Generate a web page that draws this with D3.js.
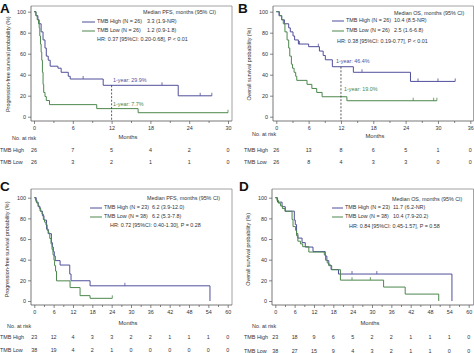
<!DOCTYPE html>
<html><head><meta charset="utf-8">
<script src="https://cdn.jsdelivr.net/npm/d3@7"></script>
<style>html,body{margin:0;padding:0;background:#fff;}svg{display:block;font-family:"Liberation Sans",Arial,sans-serif;}</style>
</head><body>
<script>
// ---------------- DATA ----------------
const yTicks = [0, 20, 40, 60, 80, 100];
const aXTicks = [0, 6, 12, 18, 24, 30];
const bXTicks = [0, 6, 12, 18, 24, 30, 36];
const cdXTicks = [0, 6, 12, 18, 24, 30, 36, 42, 48, 54, 60];

// Panel A (PFS)
const aHighTime = [0, 0.3, 0.6, 0.8, 1.1, 1.4, 1.7, 1.9, 2.2, 2.5, 3.7, 4.2, 5.3, 5.6, 10.7, 22.3];
const aHighSurv = [100, 96.2, 92.3, 88.5, 80.8, 73.1, 65.4, 57.7, 53.8, 48.1, 46.2, 42.3, 38.5, 35.9, 29.9, 19.9];
const aHighEnd = 27.5;
const aHighCensor = [7.6, 19.8, 25.7, 27.5];
const aLowTime = [0, 0.3, 0.5, 0.7, 0.8, 0.9, 1.0, 1.1, 1.2, 1.3, 1.4, 1.5, 1.7, 1.9, 2.4, 9.7, 16.1];
const aLowSurv = [100, 96.2, 92.3, 88.5, 84.6, 76.9, 69.2, 61.5, 53.8, 42.3, 30.8, 23.1, 19.2, 15.4, 11.5, 7.7, 3.8];
const aLowEnd = 30;
const aLowCensor = [30];
const aRiskHigh = [26, 7, 5, 4, 2, 0];
const aRiskLow = [26, 3, 2, 1, 1, 0];

// Panel B (OS)
const bHighTime = [0, 0.5, 1.0, 1.5, 2.3, 2.6, 3.1, 3.4, 4.1, 6.0, 8.0, 8.7, 9.1, 10.4, 14.3, 24.9];
const bHighSurv = [100, 96.2, 92.3, 88.5, 84.6, 80.8, 76.9, 73.1, 69.2, 66.7, 62.5, 58.3, 54.2, 47.6, 42.3, 33.6];
const bHighEnd = 33.2;
const bHighCensor = [4.3, 7.8, 15.9, 26.3, 30.0, 33.2];
const bLowTime = [0, 0.6, 1.0, 1.3, 1.6, 2.0, 2.3, 2.5, 2.8, 3.0, 3.3, 3.6, 3.8, 5.7, 6.6, 7.5, 8.5, 13.1];
const bLowSurv = [100, 96.2, 92.3, 88.5, 80.8, 73.1, 65.4, 57.7, 50.0, 46.2, 42.3, 38.5, 34.6, 30.8, 26.9, 23.1, 19.0, 15.2];
const bLowEnd = 29.8;
const bLowCensor = [25.4, 29.2, 29.8];
const bRiskHigh = [26, 13, 8, 6, 5, 1, 0];
const bRiskLow = [26, 8, 4, 3, 3, 0, 0];

// Panel C (PFS)
const cHighTime = [0, 0.6, 1.2, 1.8, 2.5, 3.0, 3.8, 4.3, 5.3, 5.6, 5.9, 6.2, 6.5, 8.0, 11.0, 11.4, 17.3, 54.5];
const cHighSurv = [100, 95.7, 91.3, 87.0, 82.6, 78.3, 69.6, 65.2, 56.5, 52.2, 47.8, 43.5, 39.1, 34.8, 26.1, 19.6, 14.7, 0];
const cHighEnd = 54.5;
const cHighCensor = [28.1];
const cLowTime = [0, 0.4, 0.8, 1.2, 1.6, 2.0, 2.4, 2.8, 3.2, 3.6, 4.0, 4.4, 4.8, 5.2, 5.5, 5.8, 6.1, 6.3, 6.6, 6.9, 11.1, 14.2, 17.3];
const cLowSurv = [100, 97.4, 94.7, 92.1, 89.5, 86.8, 84.2, 78.9, 76.3, 73.7, 68.4, 65.8, 60.5, 55.3, 50.0, 44.7, 39.5, 34.2, 28.9, 19.5, 13.0, 5.2, 2.6];
const cLowEnd = 24.2;
const cLowCensor = [24.2];
const cRiskHigh = [23, 12, 4, 3, 3, 2, 2, 1, 1, 1, 0];
const cRiskLow = [38, 19, 4, 2, 1, 0, 0, 0, 0, 0, 0];

// Panel D (OS)
const dHighTime = [0, 0.7, 2.1, 3.1, 5.9, 6.2, 6.6, 7.0, 8.3, 9.3, 11.7, 15.5, 16.0, 16.6, 17.3, 19.6, 54.8];
const dHighSurv = [100, 95.7, 91.3, 87.0, 78.3, 73.9, 65.2, 60.9, 56.5, 52.2, 47.8, 43.5, 39.1, 34.8, 30.4, 26.1, 0];
const dHighEnd = 54.8;
const dHighCensor = [23.8, 31.5];
const dLowTime = [0, 0.5, 1.0, 1.6, 2.2, 3.0, 5.2, 5.5, 6.3, 6.6, 7.0, 7.8, 8.5, 10.4, 15.2, 15.6, 16.1, 16.6, 17.5, 20.2, 33.6, 40.3, 50.7];
const dLowSurv = [100, 97.4, 94.7, 92.1, 89.5, 86.8, 78.9, 72.0, 68.4, 63.2, 57.9, 55.3, 52.6, 47.4, 44.7, 39.5, 36.8, 34.2, 30.3, 20.2, 13.5, 6.7, 0];
const dLowEnd = 50.7;
const dLowCensor = [23.8, 29.5];
const dRiskHigh = [23, 18, 9, 6, 5, 2, 2, 1, 1, 1, 0];
const dRiskLow = [38, 27, 15, 9, 4, 3, 2, 1, 1, 0, 0];

// ---------------- DRAW ----------------
const HIGH = "#4f4f9c", LOW = "#4c874c", TXT = "#333";
const FS = 5.4;
const svg = d3.select("body").append("svg").attr("width", 474).attr("height", 353);

function stepPoints(times, surv, end) {
  const pts = [[times[0], surv[0]]];
  for (let i = 1; i < times.length; i++) {
    pts.push([times[i], surv[i - 1]]);
    pts.push([times[i], surv[i]]);
  }
  pts.push([end, surv[surv.length - 1]]);
  return pts;
}
function survAt(times, surv, t) {
  let s = surv[0];
  for (let i = 0; i < times.length; i++) if (times[i] <= t) s = surv[i];
  return s;
}

function panel(p) {
  const g = svg.append("g");
  const x = d3.scaleLinear().domain([0, p.xMax]).range(p.xRange);
  const y = d3.scaleLinear().domain([0, 100]).range(p.yRange);
  // frame
  g.append("path").attr("d", `M${p.axX},${p.frameTop}H${p.frameRight}V${p.axY}`)
    .attr("fill", "none").attr("stroke", "#8a8a8a").attr("stroke-width", 0.8);
  g.append("path").attr("d", `M${p.axX},${p.frameTop}V${p.axY}H${p.frameRight}`)
    .attr("fill", "none").attr("stroke", "#555").attr("stroke-width", 0.8);
  // y axis
  const ya = g.append("g").attr("transform", `translate(${p.axX},0)`)
    .call(d3.axisLeft(y).tickValues(yTicks).tickSize(3).tickPadding(2));
  // x axis major + minor
  const xa = g.append("g").attr("transform", `translate(0,${p.axY})`)
    .call(d3.axisBottom(x).tickValues(p.xTicks).tickSize(3).tickPadding(2.5));
  const minor = p.xTicks.slice(0, -1).map((v, i) => (v + p.xTicks[i + 1]) / 2);
  const xm = g.append("g").attr("transform", `translate(0,${p.axY})`)
    .call(d3.axisBottom(x).tickValues(minor).tickSize(2).tickFormat(""));
  [ya, xa, xm].forEach(a => {
    a.select(".domain").remove();
    a.selectAll("line").attr("stroke", "#555").attr("stroke-width", 0.7);
    a.selectAll("text").attr("font-size", FS).attr("fill", TXT).attr("font-family", "Liberation Sans, Arial");
  });
  // y title
  g.append("text").attr("transform", `translate(${p.yTitleX},${(p.yRange[0] + p.yRange[1]) / 2}) rotate(-90)`)
    .attr("text-anchor", "middle").attr("dominant-baseline", "middle")
    .attr("font-size", FS).attr("fill", TXT).text(p.yTitle);
  // Months
  g.append("text").attr("x", p.monthsX).attr("y", p.monthsY).attr("text-anchor", "middle")
    .attr("dominant-baseline", "middle").attr("font-size", 5.8).attr("fill", TXT).text("Months");
  // panel letter
  g.append("text").attr("x", p.letterX).attr("y", p.letterY).attr("font-size", 13.5).attr("font-weight", "bold")
    .attr("fill", "#111").text(p.letter);
  // curves
  const line = d3.line().x(d => x(d[0])).y(d => y(d[1]));
  p.curves.forEach(c => {
    g.append("path").attr("d", line(stepPoints(c.t, c.s, c.end)))
      .attr("fill", "none").attr("stroke", c.color).attr("stroke-width", 1);
    g.selectAll(null).data(c.censor).enter().append("line")
      .attr("x1", d => x(d)).attr("x2", d => x(d))
      .attr("y1", d => y(survAt(c.t, c.s, d)) - 3).attr("y2", d => y(survAt(c.t, c.s, d)))
      .attr("stroke", c.color).attr("stroke-width", 0.8);
  });
  // dashed 1-year line
  if (p.oneYear) {
    g.append("line").attr("x1", x(12)).attr("x2", x(12)).attr("y1", y(p.oneYear.top)).attr("y2", p.axY)
      .attr("stroke", "#333").attr("stroke-width", 0.8).attr("stroke-dasharray", "2,1.6");
    p.oneYear.labels.forEach(l => {
      g.append("text").attr("x", l.x).attr("y", l.y).attr("dominant-baseline", "middle")
        .attr("font-size", FS).attr("fill", l.color).text(l.text);
    });
  }
  // legend
  const L = p.legend;
  g.append("text").attr("x", L.headX).attr("y", L.headY).attr("dominant-baseline", "middle")
    .attr("font-size", FS).attr("fill", TXT).text(L.head);
  L.rows.forEach((r, i) => {
    const yy = L.rowY[i];
    g.append("line").attr("x1", L.lineX[0]).attr("x2", L.lineX[1]).attr("y1", yy).attr("y2", yy)
      .attr("stroke", r.color).attr("stroke-width", 1);
    g.append("text").attr("x", L.textX).attr("y", yy).attr("dominant-baseline", "middle")
      .attr("font-size", FS).attr("fill", TXT).text(r.label);
    g.append("text").attr("x", L.valX).attr("y", yy).attr("dominant-baseline", "middle")
      .attr("font-size", FS).attr("fill", TXT).text(r.value);
  });
  g.append("text").attr("x", L.hrX).attr("y", L.hrY).attr("dominant-baseline", "middle")
    .attr("font-size", FS).attr("fill", TXT).text(L.hr);
  // risk table
  const R = p.risk;
  g.append("text").attr("x", R.noX).attr("y", R.noY).attr("dominant-baseline", "middle")
    .attr("font-size", FS).attr("fill", TXT).text("No. at risk");
  [["TMB High", R.high, R.highY], ["TMB Low", R.low, R.lowY]].forEach(([lab, vals, yy]) => {
    g.append("text").attr("x", R.labX).attr("y", yy).attr("dominant-baseline", "middle")
      .attr("font-size", FS).attr("fill", TXT).text(lab);
    g.selectAll(null).data(vals).enter().append("text")
      .attr("x", (d, i) => x(p.xTicks[i])).attr("y", yy).attr("text-anchor", "middle")
      .attr("dominant-baseline", "middle").attr("font-size", FS).attr("fill", TXT).text(d => d);
  });
}

panel({
  letter: "A", letterX: 0, letterY: 12.5,
  xMax: 30, xTicks: aXTicks, xRange: [34, 228], yRange: [116.7, 11.7],
  axX: 31, axY: 121, frameTop: 6, frameRight: 232,
  yTitleX: 9, yTitle: "Progression-free survival probability (%)",
  monthsX: 128, monthsY: 137,
  curves: [
    {t: aHighTime, s: aHighSurv, end: aHighEnd, censor: aHighCensor, color: HIGH},
    {t: aLowTime, s: aLowSurv, end: aLowEnd, censor: aLowCensor, color: LOW}],
  oneYear: {top: 29.9, labels: [
    {x: 113, y: 81, text: "1-year: 29.9%", color: HIGH},
    {x: 113, y: 105, text: "1-year: 7.7%", color: LOW}]},
  legend: {head: "Median PFS, months (95% CI)", headX: 143, headY: 13,
    lineX: [82, 95], textX: 97, valX: 147, rowY: [22, 31],
    rows: [{label: "TMB High (N = 26)", value: "3.3 (1.9-NR)", color: HIGH},
           {label: "TMB Low (N = 26)", value: "1.2 (0.9-1.8)", color: LOW}],
    hr: "HR: 0.37 [95%CI: 0.20-0.68], P < 0.01", hrX: 97, hrY: 40},
  risk: {noX: 12, noY: 139, labX: 0, highY: 151, lowY: 163, high: aRiskHigh, low: aRiskLow}
});

panel({
  letter: "B", letterX: 238, letterY: 12.5,
  xMax: 36, xTicks: bXTicks, xRange: [276.3, 470.3], yRange: [116.7, 11.7],
  axX: 273, axY: 121, frameTop: 6, frameRight: 473.5,
  yTitleX: 250, yTitle: "Overall survival probability (%)",
  monthsX: 375, monthsY: 136,
  curves: [
    {t: bHighTime, s: bHighSurv, end: bHighEnd, censor: bHighCensor, color: HIGH},
    {t: bLowTime, s: bLowSurv, end: bLowEnd, censor: bLowCensor, color: LOW}],
  oneYear: {top: 47.6, labels: [
    {x: 336, y: 62, text: "1-year: 46.4%", color: HIGH},
    {x: 344, y: 90, text: "1-year: 19.0%", color: LOW}]},
  legend: {head: "Median OS, months (95% CI)", headX: 394, headY: 14,
    lineX: [332, 344], textX: 346, valX: 394, rowY: [21, 31],
    rows: [{label: "TMB High (N = 26)", value: "10.4 (8.5-NR)", color: HIGH},
           {label: "TMB Low (N = 26)", value: "2.5 (1.6-6.8)", color: LOW}],
    hr: "HR: 0.38 [95%CI: 0.19-0.77], P < 0.01", hrX: 337, hrY: 42},
  risk: {noX: 252, noY: 135, labX: 244, highY: 151, lowY: 163, high: bRiskHigh, low: bRiskLow}
});

panel({
  letter: "C", letterX: 0, letterY: 191,
  xMax: 60, xTicks: cdXTicks, xRange: [34.3, 227.7], yRange: [301, 197.7],
  axX: 31, axY: 305, frameTop: 189, frameRight: 232,
  yTitleX: 8, yTitle: "Progression-free survival probability (%)",
  monthsX: 128, monthsY: 323,
  curves: [
    {t: cHighTime, s: cHighSurv, end: cHighEnd, censor: cHighCensor, color: HIGH},
    {t: cLowTime, s: cLowSurv, end: cLowEnd, censor: cLowCensor, color: LOW}],
  oneYear: null,
  legend: {head: "Median PFS, months (95% CI)", headX: 147, headY: 199,
    lineX: [90, 102], textX: 104, valX: 152, rowY: [208, 217],
    rows: [{label: "TMB High (N = 23)", value: "6.2 (3.9-12.0)", color: HIGH},
           {label: "TMB Low (N = 38)", value: "6.2 (5.3-7.8)", color: LOW}],
    hr: "HR: 0.72 [95%CI: 0.40-1.30], P = 0.28", hrX: 110, hrY: 226},
  risk: {noX: 7, noY: 327, labX: 0, highY: 338, lowY: 351, high: cRiskHigh, low: cRiskLow}
});

panel({
  letter: "D", letterX: 239, letterY: 191,
  xMax: 60, xTicks: cdXTicks, xRange: [275.3, 468.7], yRange: [301, 197.7],
  axX: 272, axY: 305, frameTop: 189, frameRight: 473.5,
  yTitleX: 249, yTitle: "Overall survival probability (%)",
  monthsX: 370, monthsY: 323,
  curves: [
    {t: dHighTime, s: dHighSurv, end: dHighEnd, censor: dHighCensor, color: HIGH},
    {t: dLowTime, s: dLowSurv, end: dLowEnd, censor: dLowCensor, color: LOW}],
  oneYear: null,
  legend: {head: "Median OS, months (95% CI)", headX: 392, headY: 200,
    lineX: [332, 343], textX: 345, valX: 393, rowY: [208, 217],
    rows: [{label: "TMB High (N = 23)", value: "11.7 (6.2-NR)", color: HIGH},
           {label: "TMB Low (N = 38)", value: "10.4 (7.9-20.2)", color: LOW}],
    hr: "HR: 0.84 [95%CI: 0.45-1.57], P = 0.58", hrX: 349, hrY: 227},
  risk: {noX: 252, noY: 327, labX: 244, highY: 338, lowY: 352, high: dRiskHigh, low: dRiskLow}
});
</script>
</body></html>
